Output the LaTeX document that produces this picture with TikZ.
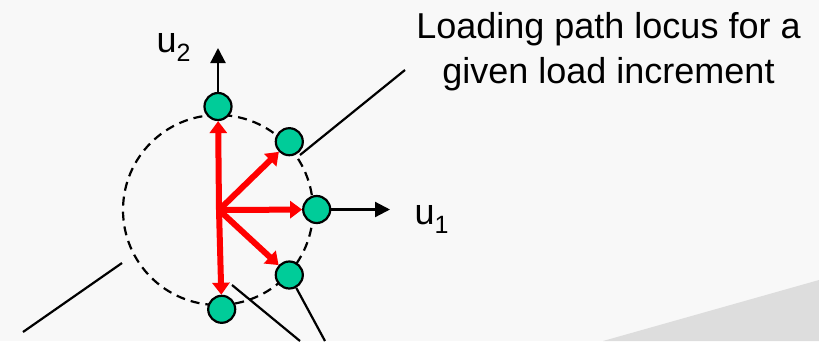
\documentclass[tikz,border=0pt]{standalone}
\usepackage{fontspec}
\setmainfont{Liberation Sans}
\usetikzlibrary{arrows.meta}
\definecolor{bgpaper}{HTML}{F8F8F8}
\definecolor{bgwedge}{HTML}{DDDDDD}
\definecolor{ballgreen}{HTML}{00CC99}
\pgfdeclarelayer{under}
\pgfsetlayers{under,main}
\tikzset{
  ball/.style={circle, draw=black, line width=2.2pt, fill=ballgreen,
    minimum size=27pt, inner sep=0pt},
  load/.style={draw=red, line width=6pt, -{Triangle[length=12pt,width=17pt]}},
  axis/.style={draw=black, line width=2.2pt, -{Triangle[length=15pt,width=15pt]}},
  leader/.style={draw=black, line width=2.2pt},
  locus/.style={circle, draw=black, line width=2.2pt, dash pattern=on 9pt off 6pt,
    minimum size=190pt, inner sep=0pt},
  lbl/.style={inner sep=0pt, font=\fontsize{36}{45}\selectfont}
}
\newcommand{\lowsub}[1]{\raisebox{-9pt}{\fontsize{25}{25}\selectfont #1}}
\begin{document}
\begin{tikzpicture}[x=1pt,y=-1pt]
\useasboundingbox (0,0) rectangle (819,341);

% load path end points
\coordinate (o) at (219,210);
\node[ball] (top) at (218,106.5) {};
\node[ball] (ur)  at (289.3,141.7) {};
\node[ball] (r)   at (316.7,209.5) {};
\node[ball] (lr)  at (289.3,275) {};
\node[ball] (bot) at (221.7,309.3) {};

% labels
\node[lbl, align=center, anchor=base] (cap) at (608.5,83)
  {Loading path locus for a\\given load increment};
\node[lbl, anchor=base west] (u2lab) at (156.5,52) {u\lowsub{2}};
\node[lbl, anchor=base west] (u1lab) at (414.5,224) {u\lowsub{1}};

% free ends of axes and leader lines
\coordinate (u2tip) at (218,48);
\coordinate (u1tip) at (390,209.5);
\coordinate (l1a) at (300,155);
\coordinate (l1b) at (405,70);
\coordinate (l2a) at (122,263);
\coordinate (l2b) at (23,332);
\coordinate (l3a) at (232,285);
\coordinate (l3b) at (300,341);
\coordinate (l4b) at (325,341);

\begin{pgfonlayer}{under}
  \fill[bgpaper] (0,0) rectangle (819,341);
  \fill[bgwedge] (603,341) -- (819,280) -- (819,341) -- cycle;
  \node[locus] (circ) at (218,210) {};
  \draw[leader] (l1a) -- (l1b);
  \draw[leader] (l2a) -- (l2b);
  \draw[leader] (l3a) -- (l3b);
  \draw[leader] (lr) -- (l4b);
  \draw[axis] (top) -- (u2tip);
  \draw[axis] (r) -- (u1tip);
  \draw[load] (o) -- (top);
  \draw[load] (o) -- (ur);
  \draw[load] (o) -- (r);
  \draw[load] (o) -- (lr);
  \draw[load] (o) -- (bot);
\end{pgfonlayer}
\end{tikzpicture}
\end{document}
